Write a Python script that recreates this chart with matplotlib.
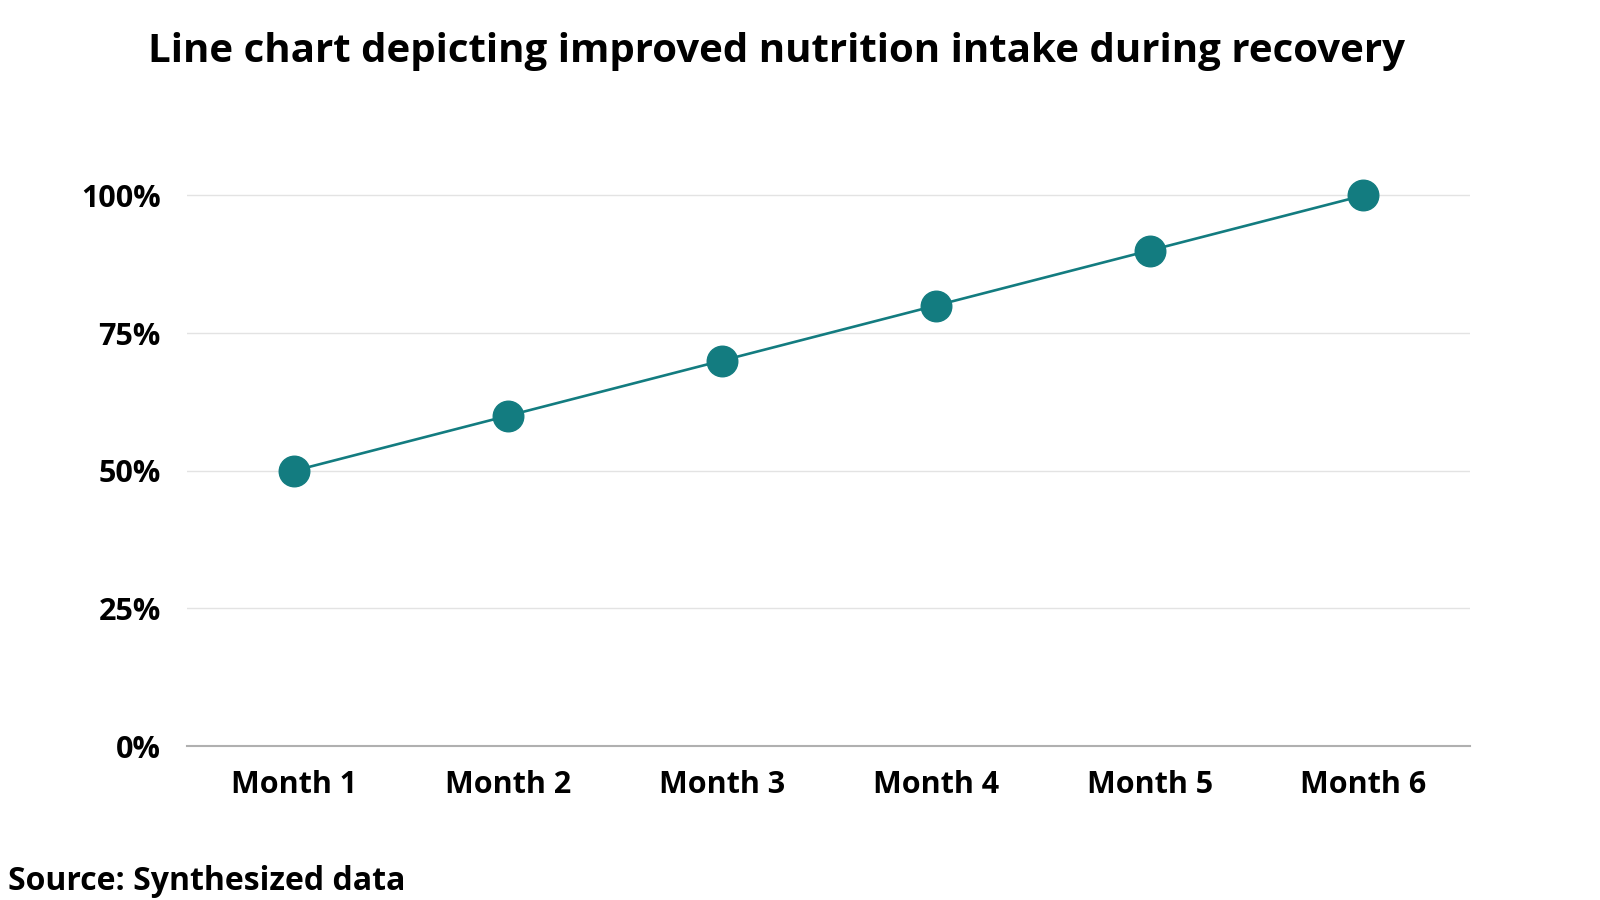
import matplotlib
matplotlib.use("Agg")
import matplotlib.pyplot as plt

months = ["Month 1", "Month 2", "Month 3", "Month 4", "Month 5", "Month 6"]
intake = [50, 60, 70, 80, 90, 100]
yticks = [0, 25, 50, 75, 100]
ytick_labels = ["0%", "25%", "50%", "75%", "100%"]

plt.rcParams['font.family'] = ['Open Sans', 'DejaVu Sans']

fig = plt.figure(figsize=(16, 9), dpi=100)
ax = fig.add_axes([0.117, 0.171, 0.802, 0.673])
x = list(range(len(months)))
ax.plot(x, intake, color="#137C80", lw=1.9, marker="o", markersize=22,
        markerfacecolor="#137C80", markeredgecolor="#137C80", zorder=3, clip_on=False)
ax.set_xlim(-0.5, 5.5)
ax.set_ylim(0, 110)
ax.set_yticks(yticks)
ax.set_yticklabels(ytick_labels, fontsize=22, fontweight="bold")
ax.set_xticks(x)
ax.set_xticklabels(months, fontsize=22, fontweight="bold")
ax.tick_params(axis="both", length=0)
ax.tick_params(axis="x", pad=17)
ax.tick_params(axis="y", pad=19)
ax.grid(axis="y", color="#e3e3e3", lw=1)
ax.set_axisbelow(True)
for s in ["top", "right", "left"]:
    ax.spines[s].set_visible(False)
ax.spines["bottom"].set_color("#b0b0b0")
ax.spines["bottom"].set_linewidth(1.5)

fig.text(0.485, 0.943, "Line chart depicting improved nutrition intake during recovery",
         ha="center", va="center", fontsize=29, fontweight="bold")
fig.text(0.005, 0.021, "Source: Synthesized data", ha="left", va="center",
         fontsize=23, fontweight="bold")

fig.savefig("out.png", dpi=100, facecolor="white")
